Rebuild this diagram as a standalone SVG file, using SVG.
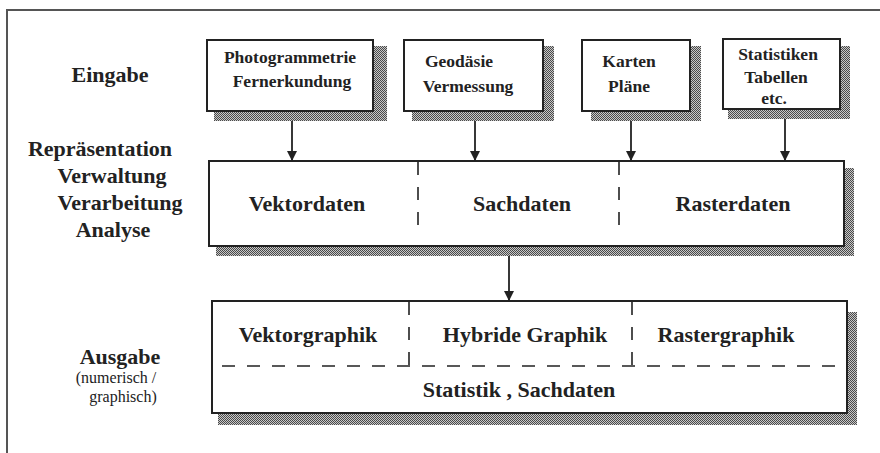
<svg xmlns="http://www.w3.org/2000/svg" width="880" height="453" viewBox="0 0 880 453">
<defs>
<pattern id="stip" width="2" height="2" patternUnits="userSpaceOnUse">
<rect width="2" height="2" fill="#c8c8c8"/>
<rect width="1" height="1" fill="#4a4a4a"/>
<rect x="1" y="1" width="1" height="1" fill="#4a4a4a"/>
</pattern>
<marker id="ah" viewBox="0 0 10 14" refX="10" refY="7" markerWidth="10" markerHeight="14" markerUnits="userSpaceOnUse" orient="auto">
<path d="M0,2 L10,7 L0,12 Z" fill="#222"/>
</marker>
</defs>
<style>
.shadow{fill:url(#stip);stroke:none}
.box{fill:#fff;stroke:#222;stroke-width:2}
.dash{fill:none;stroke:#222;stroke-width:1.6;stroke-dasharray:13 12}
.conn{fill:none;stroke:#222;stroke-width:1.8;marker-end:url(#ah)}
.t{font-family:"Liberation Serif","Times New Roman",serif;font-weight:bold;fill:#222;text-anchor:middle}
.lbl{font-size:22px}
.sm{font-size:17.5px}
.reg{font-family:"Liberation Serif","Times New Roman",serif;font-size:16px;fill:#222;text-anchor:middle}
</style>
<rect width="880" height="453" fill="#fff"/>
<path d="M7,453 L7,10 L880,10" fill="none" stroke="#555" stroke-width="2"/>

<g id="labels">
<text class="t lbl" x="110" y="82">Eingabe</text>
<text class="t lbl" x="100" y="156">Repräsentation</text>
<text class="t lbl" x="112" y="183">Verwaltung</text>
<text class="t lbl" x="120" y="210">Verarbeitung</text>
<text class="t lbl" x="113" y="237">Analyse</text>
<text class="t lbl" x="120" y="364">Ausgabe</text>
<text class="reg" x="116" y="383">(numerisch /</text>
<text class="reg" x="123" y="402">graphisch)</text>
</g>

<g id="photogrammetrie">
<rect class="shadow" x="214" y="46" width="173" height="75"/>
<rect class="box" x="207" y="40" width="166" height="71"/>
<text class="t sm" x="290" y="63">Photogrammetrie</text>
<text class="t sm" x="292" y="87">Fernerkundung</text>
</g>

<g id="geodaesie">
<rect class="shadow" x="412" y="46" width="142" height="75"/>
<rect class="box" x="404" y="40" width="139" height="71"/>
<text class="t sm" x="459" y="67">Geodäsie</text>
<text class="t sm" x="468" y="92">Vermessung</text>
</g>

<g id="karten">
<rect class="shadow" x="591" y="46" width="110" height="75"/>
<rect class="box" x="582" y="40" width="108" height="71"/>
<text class="t sm" x="629" y="67">Karten</text>
<text class="t sm" x="629" y="92">Pläne</text>
</g>

<g id="statistiken">
<rect class="shadow" x="728" y="46" width="122" height="73"/>
<rect class="box" x="723" y="39" width="117" height="70"/>
<text class="t sm" x="778" y="60">Statistiken</text>
<text class="t sm" x="776" y="83">Tabellen</text>
<text class="t sm" x="774" y="104">etc.</text>
</g>

<g id="repraesentation">
<rect class="shadow" x="216" y="168" width="638" height="88"/>
<rect class="box" x="209" y="161" width="635" height="85"/>
<line class="dash" x1="418" y1="162" x2="418" y2="234"/>
<line class="dash" x1="619" y1="162" x2="619" y2="234"/>
<text class="t lbl" x="307" y="211">Vektordaten</text>
<text class="t lbl" x="522" y="211">Sachdaten</text>
<text class="t lbl" x="733" y="211">Rasterdaten</text>
</g>

<g id="ausgabe">
<rect class="shadow" x="218" y="312" width="639" height="113"/>
<rect class="box" x="212" y="301" width="635" height="112"/>
<line class="dash" x1="409" y1="302" x2="409" y2="366"/>
<line class="dash" x1="632" y1="302" x2="632" y2="366"/>
<line class="dash" x1="222" y1="366" x2="847" y2="366"/>
<text class="t lbl" x="308" y="342">Vektorgraphik</text>
<text class="t lbl" x="525" y="342">Hybride Graphik</text>
<text class="t lbl" x="726" y="342">Rastergraphik</text>
<text class="t lbl" x="519" y="397">Statistik , Sachdaten</text>
</g>

<g id="connectors">
<line class="conn" x1="292" y1="121" x2="292" y2="161"/>
<line class="conn" x1="475" y1="121" x2="475" y2="161"/>
<line class="conn" x1="631" y1="121" x2="631" y2="161"/>
<line class="conn" x1="785" y1="119" x2="785" y2="161"/>
<line class="conn" x1="509" y1="256" x2="509" y2="301"/>
</g>
</svg>
